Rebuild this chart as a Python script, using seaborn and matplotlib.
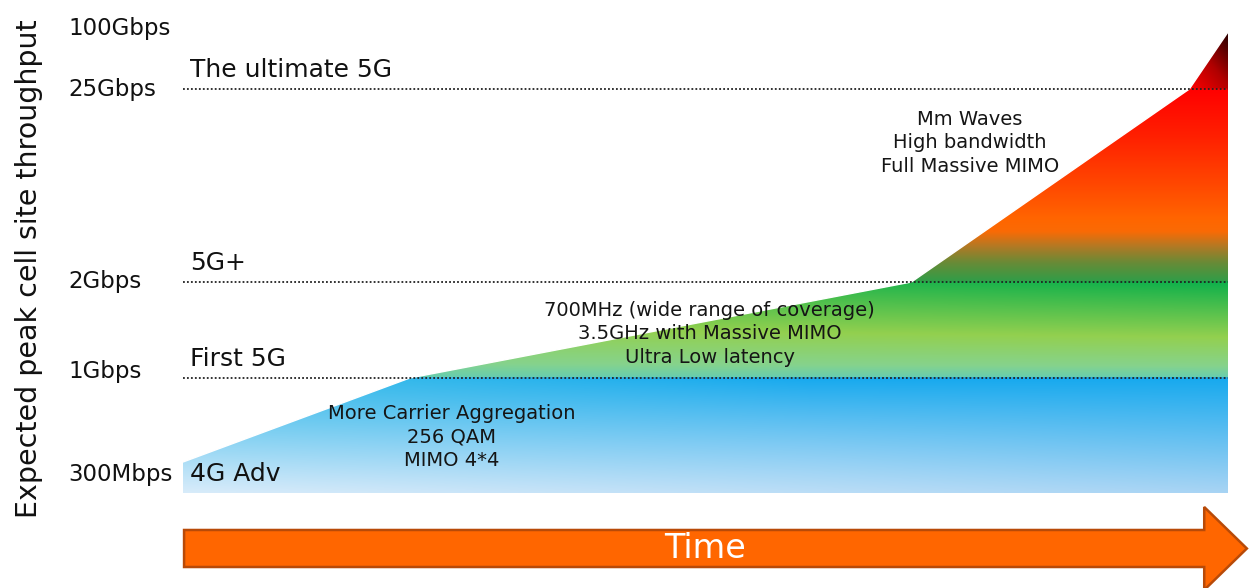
import numpy as np
import matplotlib
matplotlib.use("Agg")
import matplotlib.pyplot as plt
from matplotlib.patches import FancyArrow
from matplotlib.colors import to_rgb
import seaborn as sns

# schematic time (arbitrary units) and schematic throughput level (not a real scale)
time = [0.0, 2.17, 6.97, 9.63, 10.0]
throughput_level = [0.31, 1.15, 2.11, 4.04, 4.61]

tick_labels = ["300Mbps", "1Gbps", "2Gbps", "25Gbps", "100Gbps"]
tick_levels = [0.21, 1.24, 2.14, 4.06, 4.67]

tier_names = ["4G Adv", "First 5G", "5G+", "The ultimate 5G"]
tier_lines = [0.0, 1.15, 2.11, 4.04]

notes = [
    "More Carrier Aggregation\n256 QAM\nMIMO 4*4",
    "700MHz (wide range of coverage)\n3.5GHz with Massive MIMO\nUltra Low latency",
    "Mm Waves\nHigh bandwidth\nFull Massive MIMO",
]
note_time = [2.57, 5.04, 7.53]
note_level = [0.56, 1.59, 3.50]

sns.set_theme(style="white")
plt.rcParams["font.family"] = ["DejaVu Sans"]


def ramp(s, stops):
    pos = [p for p, _ in stops]
    cols = np.array([to_rgb(c) for _, c in stops])
    return np.stack([np.interp(s, pos, cols[:, k]) for k in range(3)], axis=-1)


# gradient image for the area
nx, ny = 700, 600
ytop = 4.75
X, Y = np.meshgrid(np.linspace(0, 10, nx), np.linspace(0, ytop, ny))
img = np.ones((ny, nx, 3))
b0, b1, b2 = tier_lines[1:]

# blue band
m = Y < b0
s = Y[m] / b0
c = ramp(s, [(0, "#a8d4f4"), (1, "#16a9ee")])
cy = (np.clip(1 - X[m] / 6, 0, 1) * s)[:, None] * 0.8
c = c * (1 - cy) + np.array(to_rgb("#4cc6e8")) * cy
w = (0.55 * (1 - X[m] / 10) * (1 - s))[:, None]
img[m] = c * (1 - w) + w

# green band
m = (Y >= b0) & (Y < b1)
s = (Y[m] - b0) / (b1 - b0)
s = s * (0.75 + 0.25 * X[m] / 10)
img[m] = ramp(s, [(0, "#66cdb0"), (0.12, "#86d38c"), (0.42, "#93d04f"), (1, "#0db04b")])

# orange / red band
m = (Y >= b1) & (Y < b2)
s = (Y[m] - b1) / (b2 - b1)
img[m] = ramp(s, [(0, "#2f9e48"), (0.10, "#6a8a36"), (0.18, "#b07a25"), (0.26, "#fa6a05"),
                  (0.32, "#ff6600"), (0.5, "#ff4800"), (0.75, "#ff2000"), (1, "#ff0000")])

# dark tip
m = Y >= b2
t = 0.55 * (Y[m] - b2) / (throughput_level[-1] - b2) + 0.45 * (X[m] - time[-2]) / (time[-1] - time[-2])
img[m] = ramp(np.clip(t, 0, 1), [(0, "#ff0000"), (0.5, "#b00000"), (1, "#250000")])

fig = plt.figure(figsize=(12.49, 5.88), dpi=100)
ax = fig.add_axes([183 / 1249, 95 / 588, 1045 / 1249, 493 / 588])

im = ax.imshow(img, extent=[0, 10, 0, ytop], origin="lower", aspect="auto",
               interpolation="bilinear", zorder=1)
area = ax.fill_between(time, 0, throughput_level, color="none", lw=0)
im.set_clip_path(area.get_paths()[0], transform=ax.transData)
sns.lineplot(x=time, y=throughput_level, color="white", linewidth=1.0, sort=False, ax=ax, zorder=2)

for lv in tier_lines[1:]:
    ax.axhline(lv, color="#222222", linestyle=(0, (1, 1.2)), linewidth=1.3, zorder=3)

for name, lv in zip(tier_names, tier_lines):
    ax.text(0.067, lv + 0.12, name, fontsize=18, color="#111111", va="baseline", ha="left", zorder=4)

for txt, tx, lv in zip(notes, note_time, note_level):
    ax.text(tx, lv, txt, fontsize=14, color="#151515", ha="center", va="center",
            linespacing=1.3, zorder=4)

ax.set_xlim(0, 10)
ax.set_ylim(0, 4.93)
ax.set_xticks([])
ax.set_yticks(tick_levels)
ax.set_yticklabels(tick_labels, fontsize=16.5, color="#111111")
ax.tick_params(axis="y", length=0, pad=82.8)
for lbl in ax.get_yticklabels():
    lbl.set_horizontalalignment("left")
ax.set_ylabel("Expected peak cell site throughput", fontsize=20.5, color="#111111")
ax.yaxis.set_label_coords(-0.134, 0.456)
sns.despine(ax=ax, left=True, bottom=True)

# time arrow
ax_t = fig.add_axes([183 / 1249, 0, 1066 / 1249, 83 / 588])
ax_t.set_xlim(0, 1)
ax_t.set_ylim(0, 1)
ax_t.axis("off")
ax_t.add_patch(FancyArrow(0.001, 0.476, 0.997, 0, width=0.446, head_width=1.0, head_length=0.04,
                          length_includes_head=True, fc="#ff6600", ec="#b84a08", lw=1.8, clip_on=False))
ax_t.text(0.49, 0.47, "Time", color="white", fontsize=24, ha="center", va="center")

fig.savefig("out.png", dpi=100)
